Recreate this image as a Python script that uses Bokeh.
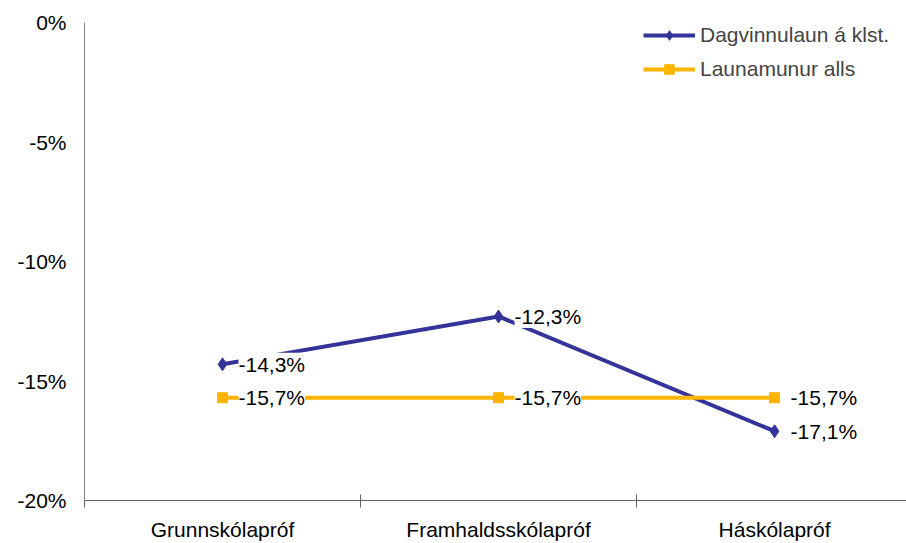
from bokeh.plotting import figure
from bokeh.models import (ColumnDataSource, FixedTicker, LabelSet, Legend, LegendItem,
                          Range1d)
from bokeh.core.properties import value
from bokeh.embed import file_html
from bokeh.resources import INLINE

categories = ["Grunnskólapróf", "Framhaldsskólapróf", "Háskólapróf"]
dagvinnulaun = [-14.3, -12.3, -17.1]
launamunur = [-15.7, -15.7, -15.7]
series_names = ["Dagvinnulaun á klst.", "Launamunur alls"]
y_ticks = [0, -5, -10, -15, -20]
y_tick_labels = ["0%", "-5%", "-10%", "-15%", "-20%"]

FONT = "Liberation Sans"
FS = "21px"
BLUE = "#333399"
ORANGE = "#FFB400"

xs = [i + 0.5 for i in range(len(categories))]

def fmt(v):
    return ("%.1f%%" % v).replace(".", ",")

p = figure(width=906, height=543, output_backend="svg", toolbar_location=None,
           x_range=Range1d(0, 2.978), y_range=Range1d(-20, 0),
           frame_height=478,
           min_border_left=84, min_border_right=0, min_border_top=22, min_border_bottom=43)
p.outline_line_color = None
p.xgrid.visible = False
p.ygrid.visible = False
p.background_fill_color = "white"

src_b = ColumnDataSource(dict(x=xs, y=dagvinnulaun, t=[fmt(v) for v in dagvinnulaun]))
src_o = ColumnDataSource(dict(x=xs, y=launamunur, t=[fmt(v) for v in launamunur]))

lb = p.line("x", "y", source=src_b, line_color=BLUE, line_width=4)
mb = p.scatter("x", "y", source=src_b, marker="diamond", size=13, fill_color=BLUE, line_color=BLUE)
lo = p.line("x", "y", source=src_o, line_color=ORANGE, line_width=4)
mo = p.scatter("x", "y", source=src_o, marker="square", size=10, fill_color=ORANGE, line_color=ORANGE)

for src in (src_o, src_b):
    labels = LabelSet(x="x", y="y", text="t", source=src, x_offset=16, y_offset=0,
                      text_font=value(FONT), text_font_size=value(FS), text_color="black",
                      text_baseline="middle", text_align="left",
                      background_fill_color="white", background_fill_alpha=1.0)
    p.add_layout(labels)

# axes
p.yaxis.ticker = FixedTicker(ticks=y_ticks)
p.yaxis.major_label_overrides = {t: l for t, l in zip(y_ticks, y_tick_labels)}
p.yaxis.major_tick_out = 0
p.yaxis.major_tick_in = 0
p.yaxis.minor_tick_out = 0
p.yaxis.minor_tick_in = 0
p.yaxis.axis_line_color = "#808080"
p.yaxis.major_label_standoff = 18
p.yaxis.major_label_text_font = FONT
p.yaxis.major_label_text_font_size = FS
p.yaxis.major_label_text_color = "black"

p.xaxis.ticker = FixedTicker(ticks=xs, minor_ticks=[0, 1, 2, 3])
p.xaxis.major_label_overrides = {x: c for x, c in zip(xs, categories)}
p.xaxis.major_tick_out = 0
p.xaxis.major_tick_in = 0
p.xaxis.minor_tick_in = 6
p.xaxis.minor_tick_out = 7
p.xaxis.minor_tick_line_color = "#606060"
p.xaxis.axis_line_color = "#606060"
p.xaxis.major_label_standoff = 10
p.xaxis.major_label_text_font = FONT
p.xaxis.major_label_text_font_size = FS
p.xaxis.major_label_text_color = "black"

legend = Legend(items=[LegendItem(label=series_names[0], renderers=[lb, mb]),
                       LegendItem(label=series_names[1], renderers=[lo, mo])],
                location=(559, 419), orientation="vertical",
                label_text_font=FONT, label_text_font_size=FS,
                glyph_width=52, glyph_height=24, label_height=24,
                label_standoff=5, spacing=10, padding=0, margin=0,
                border_line_color=None, background_fill_alpha=0)
p.add_layout(legend)

open("out.html", "w").write(file_html(p, INLINE))
